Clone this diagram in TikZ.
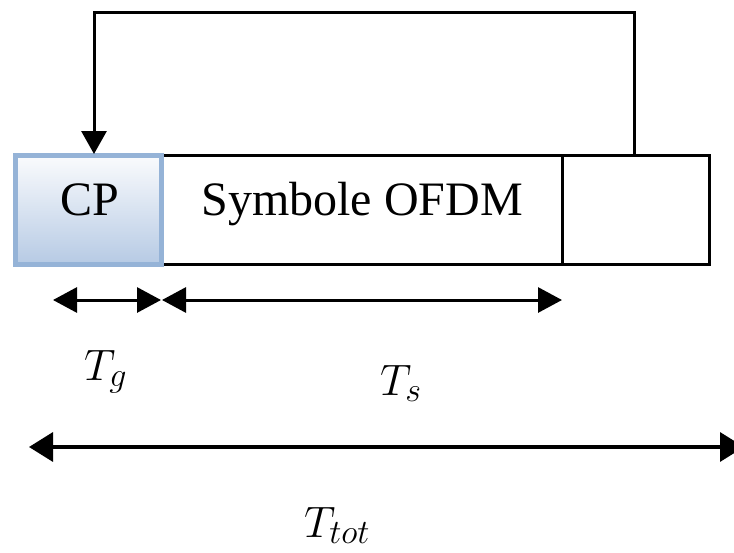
\documentclass[tikz,border=0pt]{standalone}
\usepackage{fix-cm}
\usepackage{fontspec}
\setmainfont{Liberation Serif}
\DeclareMathSizes{44}{44}{34}{26}
\usetikzlibrary{arrows.meta}
\definecolor{cpborder}{RGB}{149,179,215}
\definecolor{cpbottom}{RGB}{182,202,228}
\definecolor{cptop}{RGB}{250,251,253}
\tikzset{
  seg/.style={draw=black, line width=3pt, fill=white, minimum height=109.5pt, inner sep=0pt, outer sep=0pt},
  cpbox/.style={draw=cpborder, line width=5pt, top color=cptop, bottom color=cpbottom, minimum width=146pt, minimum height=109.5pt, inner sep=0pt},
  dim/.style={line width=3pt, {Triangle[length=24pt,width=25pt]}-{Triangle[length=24pt,width=25pt]}},
  dimtot/.style={line width=3.5pt, {Triangle[length=24pt,width=29pt]}-{Triangle[length=24pt,width=29pt]}},
  lbl/.style={font=\fontsize{48}{56}\selectfont, inner sep=0pt},
  mlbl/.style={font=\fontsize{44}{54}\selectfont, inner sep=0pt, anchor=base west}
}
\begin{document}
\begin{tikzpicture}[x=1pt,y=-1pt]
\useasboundingbox (0,0) rectangle (734,552);
\clip (0,0) rectangle (734,552);
% boxes
\node[seg, minimum width=400pt] (sym) at (362,210) {};
\node[seg, minimum width=147pt] (tail) at (635.5,210) {};
\node[cpbox] (cp) at (88.5,210) {};
\node[lbl, anchor=base] (cptxt) at (89.5,215) {CP};
\node[lbl, anchor=base] (symtxt) at (362,215) {Symbole OFDM};
% feedback
\coordinate (fbs) at (634,156.5);
\coordinate (fbe) at (94,154);
\draw[line width=3pt, line join=miter, -{Triangle[length=23pt,width=25pt]}] (fbs) |- (364,12) -| (fbe);
% dimension arrows
\coordinate (g1) at (53,300);
\coordinate (g2) at (161,300);
\coordinate (s1) at (162,300);
\coordinate (s2) at (562,300);
\coordinate (t1) at (29,447);
\coordinate (t2) at (744,447);
\draw[dim] (g1) -- (g2);
\draw[dim] (s1) -- (s2);
\draw[dimtot] (t1) -- (t2);
\node[mlbl] (tg) at (84,380) {$T_g$};
\node[mlbl] (ts) at (380,395) {$T_s$};
\node[mlbl] (ttot) at (304,537) {$T_{tot}$};
\end{tikzpicture}
\end{document}
